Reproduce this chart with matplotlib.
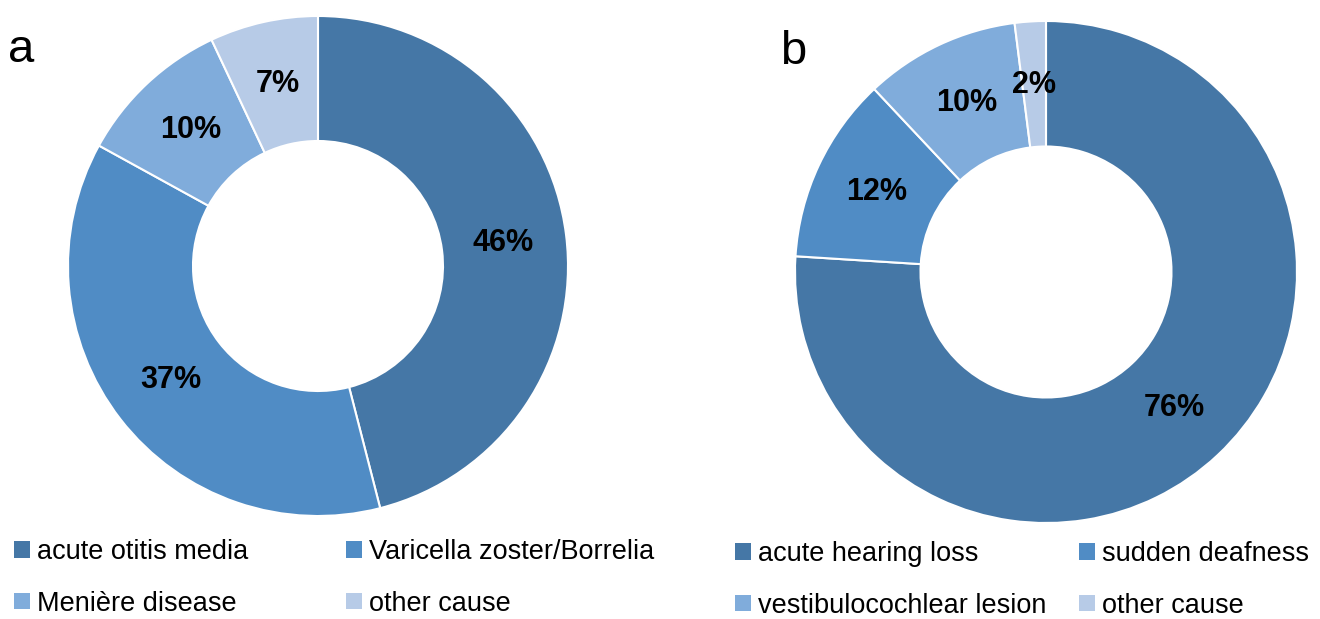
import matplotlib
matplotlib.use("Agg")
import matplotlib.pyplot as plt
from matplotlib.patches import Patch

plt.rcParams['font.family'] = ['Liberation Sans', 'DejaVu Sans']

# ---- data ----
labels_a = ["acute otitis media", "Varicella zoster/Borrelia", "Menière disease", "other cause"]
values_a = [46, 37, 10, 7]
labels_b = ["acute hearing loss", "sudden deafness", "vestibulocochlear lesion", "other cause"]
values_b = [76, 12, 10, 2]
panel_letters = ["a", "b"]

colors = ["#4577A6", "#508CC5", "#80ACDB", "#B7CBE7"]

W, H = 1320, 619
fig = plt.figure(figsize=(W / 100, H / 100), dpi=100)


def donut(cx, cy, r, values):
    ax = fig.add_axes([(cx - r) / W, (H - cy - r) / H, 2 * r / W, 2 * r / H])
    ax.pie(values, colors=colors, startangle=90, counterclock=False,
           wedgeprops=dict(width=0.5, edgecolor="white", linewidth=1.5),
           autopct=lambda p: f"{p:.0f}%", pctdistance=0.745,
           textprops=dict(fontsize=22, fontweight="bold", color="black"))
    ax.set_xlim(-1, 1)
    ax.set_ylim(-1, 1)
    ax.set_aspect("equal")
    ax.axis("off")
    return ax


donut(318, 266, 250, values_a)
donut(1046, 272, 251, values_b)

fig.text(8 / W, 1 - 62 / H, panel_letters[0], fontsize=34, ha="left", va="baseline")
fig.text(780 / W, 1 - 64 / H, panel_letters[1], fontsize=34, ha="left", va="baseline")


def legend(labels, x, yc, colspace):
    handles = [Patch(facecolor=c, edgecolor="none") for c in colors]
    order = [0, 2, 1, 3]
    fig.legend([handles[i] for i in order], [labels[i] for i in order], ncol=2,
               loc="center left", bbox_to_anchor=(x / W, 1 - yc / H),
               frameon=False, fontsize=19.5, borderpad=0, borderaxespad=0,
               handlelength=0.6, handleheight=0.55, handletextpad=0.25,
               columnspacing=colspace, labelspacing=0.95)


legend(labels_a, 14, 578, 3.6)
legend(labels_b, 735, 580, 1.2)

fig.savefig("out.png", dpi=100)
